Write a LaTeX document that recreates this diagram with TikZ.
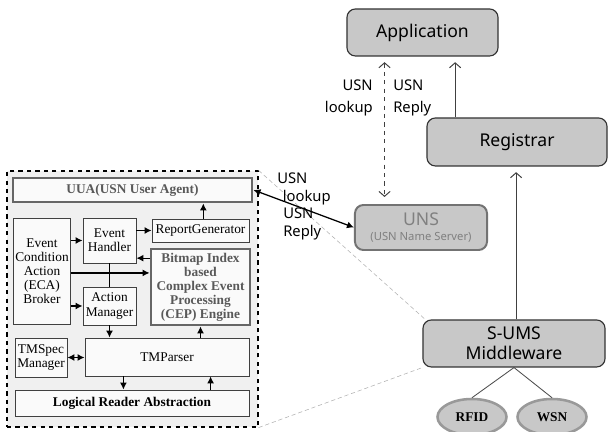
\documentclass[tikz,border=0pt]{standalone}
\usepackage{fontspec}
\setmainfont{Liberation Serif}
\newfontfamily\uifont{Noto Sans}
\usepackage{xcolor}
\usetikzlibrary{arrows.meta, shapes.geometric, positioning}
\definecolor{boxgray}{HTML}{C8C8C8}
\definecolor{areagray}{HTML}{F0F0F0}

\begin{document}
\begin{tikzpicture}[x=0.025cm, y=0.025cm,
    inbox/.style={draw=black!75, fill=black!2, line width=0.6pt, align=center, inner sep=1pt, font=\fontsize{9.5}{10}\selectfont},
    hibox/.style={inbox, draw=black!60, line width=2pt, text=black!65, font=\fontsize{9.5}{10}\selectfont\bfseries},
    sysbox/.style={draw=black!80, fill=boxgray, rounded corners=6pt, line width=0.8pt, align=center, font=\uifont\fontsize{12.5}{14}\selectfont},
    sensor/.style={ellipse, draw=black!40, fill=boxgray, line width=1.8pt, font=\fontsize{9.5}{10}\selectfont\bfseries, minimum width=1.725cm, minimum height=0.9cm, inner sep=0pt},
    arr/.style={-{Latex[length=5pt,width=5pt]}, line width=0.9pt},
    rarr/.style={-{Straight Barb[length=3.5pt,width=8pt]}, line width=0.7pt, draw=black!75},
    lbl/.style={font=\uifont\fontsize{10.5}{12.5}\selectfont, inner sep=0pt},
    guide/.style={draw=black!30, densely dashed, line width=0.4pt}]
    \useasboundingbox (0,0) rectangle (608,432);

    % S-UMS internals (dashed area)
    \node[draw, dashed, fill=areagray, line width=0.8pt, minimum width=6.275cm, minimum height=6.4cm] (umsbox) at (132.5,133) {};
    \node[hibox, minimum width=5.975cm, minimum height=0.6cm] (uua) at (132.5,242) {UUA(USN User Agent)};
    \node[inbox, minimum width=1.35cm, minimum height=2.65cm] (eca) at (42,161) {Event\\Condition\\Action\\(ECA)\\Broker};
    \node[inbox, minimum width=1.325cm, minimum height=1.125cm] (handler) at (109.5,191.5) {Event\\Handler};
    \node[inbox, minimum width=2.425cm, minimum height=0.575cm] (report) at (200.5,201.5) {ReportGenerator};
    \node[hibox, minimum width=2.475cm, minimum height=1.9cm] (cep) at (200.5,145) {Bitmap Index\\based\\Complex Event\\Processing\\(CEP) Engine};
    \node[inbox, minimum width=1.325cm, minimum height=0.95cm] (action) at (109.5,126) {Action\\Manager};
    \node[inbox, minimum width=1.3cm, minimum height=0.975cm] (tmspec) at (41,74.5) {TMSpec\\Manager};
    \node[inbox, minimum width=4.1cm, minimum height=0.95cm] (tmparser) at (167,75) {TMParser};
    \node[inbox, font=\fontsize{9.5}{10}\selectfont\bfseries, minimum width=5.85cm, minimum height=0.65cm] (reader) at (132,29) {Logical Reader Abstraction};

    % internal arrows
    \draw[arr] (eca.east |- handler.west) -- (handler.west);
    \draw[arr] ([yshift=10pt]eca.east |- cep.west) -- ([yshift=10pt]cep.west);
    \draw[arr] (eca.east |- action.west) -- (action.west);
    \draw[arr] (handler.east |- report.west) -- (report.west);
    \draw[arr] ([yshift=20.5pt]cep.west) -- ([yshift=20.5pt]cep.west -| handler.east);
    \draw[line width=0.9pt] (handler.south) -- (action.north);
    \draw[arr] (action.south) -- (action.south |- tmparser.north);
    \draw[arr] (cep.south |- tmparser.north) -- (cep.south);
    \draw[arr] ([xshift=2pt]report.north) -- ([xshift=2pt]report.north |- uua.south);
    \draw[arr, {Latex[length=5pt,width=5pt]}-{Latex[length=5pt,width=5pt]}] (tmspec.east) -- (tmspec.east -| tmparser.west);
    \draw[arr] ([xshift=-31pt]tmparser.south) -- ([xshift=-31pt]tmparser.south |- reader.north);
    \draw[arr] ([xshift=31pt]tmparser.south |- reader.north) -- ([xshift=31pt]tmparser.south);

    % system nodes
    \node[sysbox, minimum width=3.775cm, minimum height=1.175cm] (app) at (422.5,399.5) {Application};
    \node[sysbox, minimum width=4.5cm, minimum height=1.2cm] (reg) at (517,290) {Registrar};
    \node[sysbox, draw=black!55, line width=1.4pt, text=black!50, minimum width=3.3cm, minimum height=1.125cm] (uns) at (421,204.5) {UNS\\[-3pt]{\fontsize{8}{9}\selectfont(USN Name Server)}};
    \node[sysbox, minimum width=4.55cm, minimum height=1.175cm] (sums) at (514,88.5) {S-UMS\\Middleware};
    \node[sensor] (rfid) at (472,15) {RFID};
    \node[sensor] (wsn) at (552,15) {WSN};

    % zoom guides
    \draw[guide] (umsbox.north east) -- ([xshift=2pt]sums.north west);
    \draw[guide] (umsbox.south east) -- (sums.south west);

    % system connectors
    \draw[rarr, {Straight Barb[length=3.5pt,width=8pt]}-{Straight Barb[length=3.5pt,width=8pt]}, dashed, shorten <=4pt, shorten >=5pt] ([xshift=-27pt]app.south) -- ([xshift=-27pt]app.south |- uns.north);
    \draw[rarr, shorten >=4pt] ([xshift=-44pt]reg.north) -- ([xshift=-44pt]reg.north |- app.south);
    \draw[rarr, shorten >=4pt] ([xshift=1.5pt]sums.north) -- ([xshift=1.5pt]sums.north |- reg.south);
    \draw[line width=0.6pt, black!70] (sums.south) -- (rfid.north);
    \draw[line width=0.6pt, black!70] (sums.south) -- (wsn.north);
    \draw[arr, {Latex[length=5pt,width=5pt]}-{Latex[length=5pt,width=5pt]}] (uua.east) -- (uns.west);

    % labels
    \node[lbl, align=left, anchor=north west] (lookupa) at (277,259) {USN\\\hspace*{4pt}lookup};
    \node[lbl, align=left, anchor=north west] (replya) at (283,224) {USN\\Reply};
    \node[lbl, font=\uifont\fontsize{10.5}{15.5}\selectfont, align=right, anchor=north east] (lookupb) at (373,352) {USN\\lookup};
    \node[lbl, font=\uifont\fontsize{10.5}{15.5}\selectfont, align=left, anchor=north west] (replyb) at (393,352) {USN\\Reply};
\end{tikzpicture}
\end{document}
